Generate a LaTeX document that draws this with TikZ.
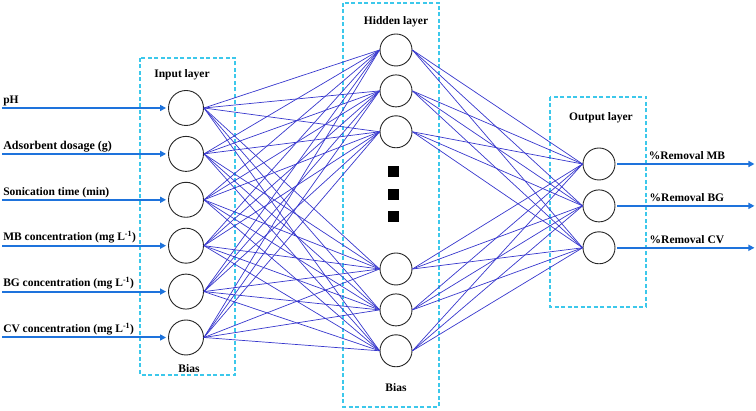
\documentclass[tikz,border=0pt]{standalone}
\usepackage{fontspec}
\setmainfont{Liberation Serif}
\usetikzlibrary{arrows.meta,calc,positioning}
\definecolor{boxcyan}{RGB}{60,200,235}
\definecolor{wire}{RGB}{55,55,205}
\definecolor{arrblue}{RGB}{30,115,220}

\begin{document}
\begin{tikzpicture}[x=1pt,y=-1pt,font=\bfseries\fontsize{11.5}{13}\selectfont]
\tikzset{
  neuron/.style={draw=black!85,line width=0.9pt,circle,inner sep=0pt,minimum size=#1},
  neuron/.default=32pt,
  blk/.style={fill=black,inner sep=0pt,minimum size=11pt},
  layerbox/.style={draw=boxcyan,line width=1.4pt,dash pattern=on 4pt off 2.5pt},
  wr/.style={wire,line width=0.7pt},
  io/.style={-{Triangle[length=6pt,width=6pt]},draw=arrblue,line width=2pt}
}
\useasboundingbox (0,0) rectangle (756,411);
% layer frames
\draw[layerbox] (140,58) rectangle (235,375);
\draw[layerbox] (343,3) rectangle (439,407);
\draw[layerbox] (550,97) rectangle (646,307);
% input layer
\node[neuron=35pt] (n1) at (186,108) {};
\node[neuron=35pt,below=10pt of n1] (n2) {};
\node[neuron=35pt,below=10pt of n2] (n3) {};
\node[neuron=35pt,below=10pt of n3] (n4) {};
\node[neuron=35pt,below=10pt of n4] (n5) {};
\node[neuron=35pt,below=10pt of n5] (n6) {};
\node[above=7pt of n1,xshift=-4pt] (ttlin) {Input layer};
\node[below=6pt of n6,xshift=3pt] (biasin) {Bias};
% hidden layer
\node[neuron] (h1) at (396,50) {};
\node[neuron,below=8pt of h1] (h2) {};
\node[neuron,below=8pt of h2] (h3) {};
\node[blk,below=18pt of h3,xshift=-3pt] (d1) {};
\node[blk,below=11pt of d1] (d2) {};
\node[blk,below=11pt of d2] (d3) {};
\node[neuron] (h4) at (396,269) {};
\node[neuron,below=8pt of h4] (h5) {};
\node[neuron,below=8pt of h5] (h6) {};
\node[above=3pt of h1] (ttlhid) {Hidden layer};
\node[below=13pt of h6] (biashid) {Bias};
% output layer
\node[neuron] (o1) at (599,164) {};
\node[neuron,below=9pt of o1] (o2) {};
\node[neuron,below=9pt of o2] (o3) {};
\node[above=21pt of o1,xshift=2pt] (ttlout) {Output layer};
% weights
\foreach \i in {1,...,6}
  \foreach \j in {1,...,6}
    \draw[wr] (n\i.east) -- (h\j.west);
\foreach \j in {1,...,6}
  \foreach \k in {1,2,3}
    \draw[wr] (h\j.east) -- (o\k.west);
% inputs
\foreach \i/\txt in {1/{pH},2/{\fontsize{12}{14}\selectfont Adsorbent dosage (g)},
    3/{Sonication time (min)},4/{MB concentration (mg L\textsuperscript{-1})},
    5/{BG concentration (mg L\textsuperscript{-1})},6/{CV concentration (mg L\textsuperscript{-1})}}{
  \coordinate (a\i) at ([xshift=-166pt]n\i.west);
  \draw[io,shorten >=2pt] (a\i) -- (n\i);
  \node[above right,inner sep=1pt,yshift=1pt] (lab\i) at (a\i) {\txt};
}
% outputs
\foreach \k/\txt in {1/MB,2/BG,3/CV}{
  \coordinate (b\k) at ([xshift=139pt]o\k.east);
  \draw[io,shorten <=2pt] (o\k) -- (b\k);
  \node[above=1pt,xshift=2pt] (res\k) at ($(o\k.east)!0.5!(b\k)$) {\%Removal \txt};
}
\end{tikzpicture}
\end{document}
